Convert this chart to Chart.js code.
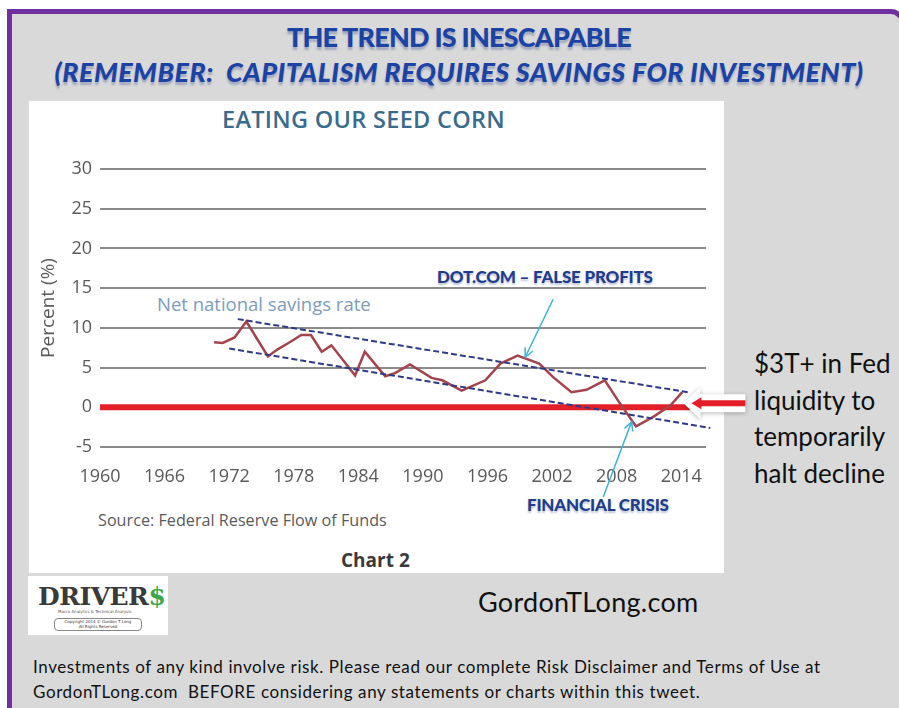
<!DOCTYPE html>
<html><head><meta charset="utf-8">
<script src="https://cdn.jsdelivr.net/npm/chart.js@4"></script>
<style>
html,body{margin:0;padding:0;width:899px;height:708px;overflow:hidden;background:#fff;position:relative;}
#frame{position:absolute;left:7px;top:9px;width:898px;height:720px;background:#d9d9d9;border-left:5px solid #7030a0;border-top:5px solid #7030a0;border-right:5px solid #7030a0;border-top-right-radius:14px;box-sizing:border-box;}
#whitebox{position:absolute;left:29px;top:101px;width:695px;height:472px;background:#fff;}
#logo{position:absolute;left:28px;top:576px;width:140px;height:59px;background:#fff;}
canvas{position:absolute;left:0;top:0;}
.t{position:absolute;white-space:nowrap;line-height:1;}
.head{font-family:Lato,sans-serif;font-weight:900;color:#1c42a4;font-size:27px;letter-spacing:-0.8px;text-shadow:0 3px 2px rgba(60,80,140,0.35);}
.note{font-family:Lato,sans-serif;font-weight:900;color:#1f3d8c;font-size:17px;letter-spacing:-0.2px;text-shadow:0 2px 2px rgba(60,80,140,0.35);}
</style></head>
<body>
<div id="frame"></div>
<div id="whitebox"></div>
<div id="logo">
  <div class="t" style="left:10px;top:8px;font-family:'DejaVu Serif',serif;font-weight:bold;font-size:25px;color:#3a3a3a;letter-spacing:-0.5px;">DRIVER<span style="color:#3aa84a">$</span></div>
  <div class="t" style="left:30px;top:34px;font-family:'DejaVu Sans',sans-serif;font-size:4px;color:#555;">Macro Analytics &amp; Technical Analysis</div>
  <div class="t" style="left:26px;top:42px;width:86px;height:11px;border:1px solid #888;border-radius:4px;font-family:'DejaVu Sans',sans-serif;font-size:4px;color:#333;text-align:center;line-height:5px;">Copyright 2014 © Gordon T Long<br>All Rights Reserved</div>
</div>

<div class="t head" style="left:0;width:918px;text-align:center;top:23px;">THE TREND IS INESCAPABLE</div>
<div class="t head" style="left:0;width:918px;text-align:center;top:58px;font-style:italic;letter-spacing:0.4px;">(REMEMBER:&nbsp; CAPITALISM REQUIRES SAVINGS FOR INVESTMENT)</div>

<div class="t" style="left:222px;top:108px;font-family:'Open Sans',sans-serif;font-weight:600;font-size:23.5px;color:#3b6b8c;letter-spacing:0.3px;">EATING OUR SEED CORN</div>
<div class="t" style="left:157px;top:295px;font-family:'Open Sans',sans-serif;font-size:18.5px;color:#7d9bbf;">Net national savings rate</div>
<div class="t" style="left:98px;top:512px;font-family:'Open Sans',sans-serif;font-size:16.2px;color:#5a5a5a;">Source: Federal Reserve Flow of Funds</div>
<div class="t" style="left:341px;top:551px;font-family:'Open Sans',sans-serif;font-weight:bold;font-size:19px;color:#3a3a3a;">Chart 2</div>
<div class="t note" style="left:437px;top:268px;">DOT.COM – FALSE PROFITS</div>
<div class="t note" style="left:527px;top:496px;">FINANCIAL CRISIS</div>

<div class="t" style="left:754px;top:345px;font-family:Lato,sans-serif;font-size:26px;color:#111;line-height:36.5px;">$3T+ in Fed<br>liquidity to<br>temporarily<br>halt decline</div>
<div class="t" style="left:478px;top:588px;font-family:Lato,sans-serif;font-size:27px;color:#111;letter-spacing:0.3px;">GordonTLong.com</div>
<div class="t" style="left:33px;top:654px;font-family:Lato,sans-serif;font-size:17px;color:#111;line-height:25px;letter-spacing:0.6px;">Investments of any kind involve risk. Please read our complete Risk Disclaimer and Terms of Use at<br>GordonTLong.com&nbsp; BEFORE considering any statements or charts within this tweet.</div>

<canvas id="c" width="899" height="708"></canvas>
<script>
// ---- data ----
const years = [1970.6, 1971.4, 1972.5, 1973.6, 1975.6, 1976.5, 1977.4, 1978.7, 1979.6, 1980.6, 1981.5, 1983.7, 1984.6, 1986.5, 1987.4, 1988.8, 1990.8, 1991.8, 1993.6, 1995.8, 1997.2, 1998.8, 2000.8, 2002.1, 2003.8, 2005.2, 2006.9, 2008.3, 2009.8, 2011.4, 2013.0, 2014.1];
const savingsRate = [8.2, 8.1, 8.8, 10.8, 6.4, 7.3, 8.0, 9.1, 9.1, 7.0, 7.8, 4.0, 7.0, 3.9, 4.3, 5.4, 3.7, 3.4, 2.1, 3.4, 5.5, 6.5, 5.5, 3.8, 1.9, 2.2, 3.4, 0.5, -2.4, -1.2, 0.25, 1.9];
const upperTrendYears = [1972.8, 2014.6];
const upperTrendValues = [11.1, 1.9];
const lowerTrendYears = [1972.0, 2016.7];
const lowerTrendValues = [7.4, -2.6];
const zeroLineYears = [1960, 2014.8];
const zeroLineValues = [0, 0];
const xTickYears = [1960, 1966, 1972, 1978, 1984, 1990, 1996, 2002, 2008, 2014];
const yTickValues = [-5, 0, 5, 10, 15, 20, 25, 30];
// annotation anchors (data coordinates)
const dotcomArrow = {fromX: 2002.1, fromY: 13.6, toX: 1999.5, toY: 6.3};
const crisisArrow = {fromX: 2006.75, fromY: -11.3, toX: 2009.4, toY: -1.8};
const fedArrowTip = {x: 2014.2, y: 0.5};

const pts = (xs, ys) => xs.map((x, i) => ({x, y: ys[i]}));

const annotations = {
  id: 'annotations',
  afterDatasetsDraw(chart) {
    const {ctx, scales: {x, y}} = chart;
    function arrow(a) {
      const x0 = x.getPixelForValue(a.fromX), y0 = y.getPixelForValue(a.fromY);
      const x1 = x.getPixelForValue(a.toX), y1 = y.getPixelForValue(a.toY);
      const ang = Math.atan2(y1 - y0, x1 - x0);
      ctx.save();
      ctx.strokeStyle = '#3cb2d6'; ctx.lineWidth = 1.5;
      ctx.beginPath(); ctx.moveTo(x0, y0); ctx.lineTo(x1, y1); ctx.stroke();
      ctx.beginPath();
      ctx.moveTo(x1 - 10 * Math.cos(ang - 0.45), y1 - 10 * Math.sin(ang - 0.45));
      ctx.lineTo(x1, y1);
      ctx.lineTo(x1 - 10 * Math.cos(ang + 0.45), y1 - 10 * Math.sin(ang + 0.45));
      ctx.stroke();
      ctx.restore();
    }
    arrow(dotcomArrow);
    arrow(crisisArrow);
    // big white arrow with red core
    const tx = x.getPixelForValue(fedArrowTip.x), ty = y.getPixelForValue(fedArrowTip.y);
    ctx.save();
    ctx.shadowColor = 'rgba(0,0,0,0.3)'; ctx.shadowBlur = 4; ctx.shadowOffsetY = 1;
    ctx.fillStyle = '#ffffff';
    ctx.beginPath();
    ctx.moveTo(tx, ty);
    ctx.lineTo(tx + 17, ty - 16);
    ctx.lineTo(tx + 17, ty - 9);
    ctx.lineTo(tx + 62, ty - 9);
    ctx.lineTo(tx + 62, ty + 9);
    ctx.lineTo(tx + 17, ty + 9);
    ctx.lineTo(tx + 17, ty + 16);
    ctx.closePath();
    ctx.fill();
    ctx.restore();
    ctx.save();
    ctx.fillStyle = '#e3202a';
    ctx.beginPath();
    ctx.moveTo(tx + 8, ty);
    ctx.lineTo(tx + 18, ty - 6);
    ctx.lineTo(tx + 18, ty - 3);
    ctx.lineTo(tx + 62, ty - 3);
    ctx.lineTo(tx + 62, ty + 3);
    ctx.lineTo(tx + 18, ty + 3);
    ctx.lineTo(tx + 18, ty + 6);
    ctx.closePath();
    ctx.fill();
    ctx.restore();
  }
};

new Chart(document.getElementById('c'), {
  type: 'line',
  data: {
    datasets: [
      {data: pts(zeroLineYears, zeroLineValues), borderColor: '#e3202a', borderWidth: 6, pointRadius: 0, order: 3},
      {data: pts(upperTrendYears, upperTrendValues), borderColor: '#2e3a87', borderWidth: 2, borderDash: [6, 3], pointRadius: 0, clip: false, order: 1},
      {data: pts(lowerTrendYears, lowerTrendValues), borderColor: '#2e3a87', borderWidth: 2, borderDash: [6, 3], pointRadius: 0, clip: false, order: 1},
      {data: pts(years, savingsRate), borderColor: '#a2434d', borderWidth: 2.5, pointRadius: 0, tension: 0, order: 2}
    ]
  },
  options: {
    responsive: false,
    animation: false,
    events: [],
    plugins: {legend: {display: false}, tooltip: {enabled: false}},
    layout: {padding: {left: 0, top: 169, right: 193, bottom: 221}},
    scales: {
      x: {
        type: 'linear', min: 1960, max: 2016.3,
        grid: {display: false, drawTicks: false},
        border: {display: false},
        afterBuildTicks: (axis) => { axis.ticks = xTickYears.map(v => ({value: v})); },
        afterFit: (axis) => { axis.height = 40; },
        ticks: {color: '#595959', font: {family: "'Open Sans', sans-serif", size: 18}, padding: 19, maxRotation: 0, autoSkip: false, callback: v => String(v)}
      },
      y: {
        min: -5, max: 30,
        grid: {color: '#8a8a8a', lineWidth: 2, drawTicks: false},
        border: {display: false},
        afterBuildTicks: (axis) => { axis.ticks = yTickValues.map(v => ({value: v})); },
        afterFit: (axis) => { axis.width = 100; },
        ticks: {color: '#595959', font: {family: "'Open Sans', sans-serif", size: 18}, padding: 8},
        title: {display: true, text: 'Percent (%)', color: '#595959', font: {family: "'Open Sans', sans-serif", size: 19}, padding: {top: 37, bottom: 0}}
      }
    }
  },
  plugins: [annotations]
});
</script>
</body></html>
